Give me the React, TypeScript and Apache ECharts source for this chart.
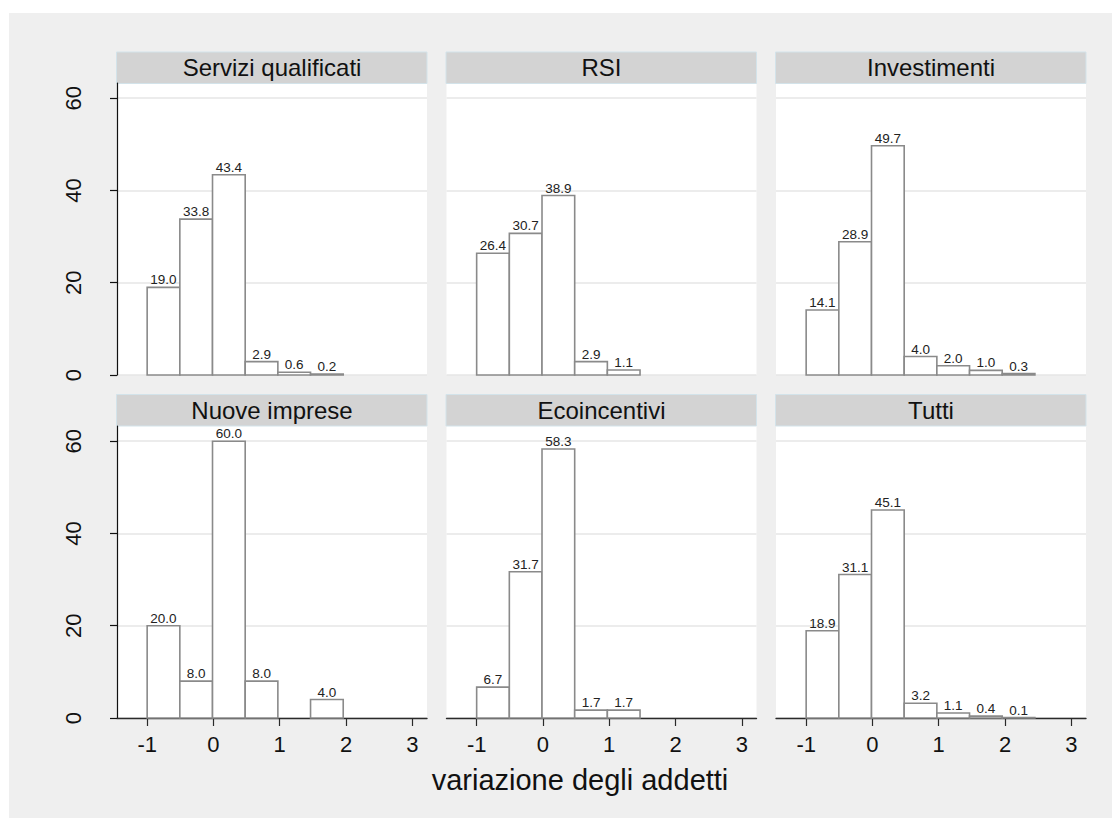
import React, { useEffect, useRef } from "react";
import * as echarts from "echarts";

// ---- data ----
const panelTitles = ["Servizi qualificati", "RSI", "Investimenti", "Nuove imprese", "Ecoincentivi", "Tutti"];
const serviziQualificati = [19.0, 33.8, 43.4, 2.9, 0.6, 0.2];
const rsi = [26.4, 30.7, 38.9, 2.9, 1.1];
const investimenti = [14.1, 28.9, 49.7, 4.0, 2.0, 1.0, 0.3];
const nuoveImprese: (number | null)[] = [20.0, 8.0, 60.0, 8.0, null, 4.0];
const ecoincentivi = [6.7, 31.7, 58.3, 1.7, 1.7];
const tutti = [18.9, 31.1, 45.1, 3.2, 1.1, 0.4, 0.1];
const panelValues: (number | null)[][] = [serviziQualificati, rsi, investimenti, nuoveImprese, ecoincentivi, tutti];

const binStart = -1;
const binWidth = 0.493;
const xTicks = [-1, 0, 1, 2, 3];
const yTicks = [0, 20, 40, 60];
const xTitle = "variazione degli addetti";

// ---- layout / style ----
const FONT = '"Liberation Sans", Arial, Helvetica, sans-serif';
const colLeft = [117, 446.5, 776];
const rowTop = [83, 426];
const headerTop = [52, 394.5];
const panelW = 310;
const panelH = 292;
const headerH = 31.5;
const xMin = -1.455;
const xMax = 3.222;
const yMax = 63.3;

export default function App() {
  const ref = useRef<HTMLDivElement>(null);
  useEffect(() => {
    document.body.style.margin = "0";
    if (!ref.current) return;
    const chart = echarts.init(ref.current, null, { renderer: "svg" });

    const grids: any[] = [];
    const xAxes: any[] = [];
    const yAxes: any[] = [];
    const series: any[] = [];
    const graphics: any[] = [
      { type: "rect", z: -10, shape: { x: 9, y: 13, width: 1103, height: 805 }, style: { fill: "#efefef" } },
    ];

    for (let i = 0; i < 6; i++) {
      const r = Math.floor(i / 3);
      const c = i % 3;
      grids.push({
        left: colLeft[c],
        top: rowTop[r],
        width: panelW,
        height: panelH,
        show: true,
        backgroundColor: "#ffffff",
        borderWidth: 0,
        containLabel: false,
        outerBoundsMode: "none",
      });
      const bottomRow = r === 1;
      xAxes.push({
        type: "value",
        gridIndex: i,
        min: xMin,
        max: xMax,
        show: bottomRow,
        axisLine: { show: true, onZero: false, lineStyle: { color: "#2a2a2a", width: 1.4 } },
        axisTick: { show: true, length: 8, customValues: xTicks, lineStyle: { color: "#2a2a2a", width: 1.2 } },
        axisLabel: {
          show: true,
          customValues: xTicks,
          margin: 15,
          fontSize: 22,
          fontFamily: FONT,
          color: "#111",
          formatter: (v: number) => String(v),
        },
        splitLine: { show: false },
      });
      const leftCol = c === 0;
      yAxes.push({
        type: "value",
        gridIndex: i,
        min: 0,
        max: yMax,
        position: "left",
        axisLine: { show: leftCol, onZero: false, lineStyle: { color: "#111", width: 1.2 } },
        axisTick: { show: leftCol, length: 7, customValues: yTicks, lineStyle: { color: "#111", width: 1.2 } },
        axisLabel: {
          show: leftCol,
          customValues: yTicks,
          rotate: 90,
          margin: 33,
          fontSize: 22,
          fontFamily: FONT,
          color: "#111",
          formatter: (v: number) => String(v),
        },
        splitLine: { show: true, lineStyle: { color: "#e6e6e6", width: 1.6 } },
      });

      const data: number[][] = [];
      panelValues[i].forEach((v, k) => {
        if (v === null || v === undefined) return;
        data.push([binStart + k * binWidth, binStart + (k + 1) * binWidth, v]);
      });
      series.push({
        type: "custom",
        xAxisIndex: i,
        yAxisIndex: i,
        data,
        clip: false,
        renderItem: (params: any, api: any) => {
          const x0 = api.value(0);
          const x1 = api.value(1);
          const v = api.value(2);
          const pTop = api.coord([x0, v]);
          const pBot = api.coord([x1, 0]);
          return {
            type: "group",
            children: [
              {
                type: "rect",
                shape: { x: pTop[0], y: pTop[1], width: pBot[0] - pTop[0], height: pBot[1] - pTop[1] },
                style: { fill: "#ffffff", stroke: "#8a8a8a", lineWidth: 1.6 },
              },
              {
                type: "text",
                x: (pTop[0] + pBot[0]) / 2,
                y: pTop[1] - 0.5,
                style: {
                  text: Number(v).toFixed(1),
                  align: "center",
                  verticalAlign: "bottom",
                  textAlign: "center",
                  textVerticalAlign: "bottom",
                  fontSize: 13.5,
                  fontFamily: FONT,
                  fill: "#222",
                },
              },
            ],
          };
        },
      });

      graphics.push({
        type: "group",
        children: [
          {
            type: "rect",
            shape: { x: colLeft[c] - 0.5, y: headerTop[r], width: panelW + 0.5, height: headerH },
            style: { fill: "#d3d3d3", stroke: "#d3e3ea", lineWidth: 1 },
          },
          {
            type: "text",
            x: colLeft[c] + panelW / 2,
            y: headerTop[r] + headerH / 2,
            style: {
              text: panelTitles[i],
              align: "center",
              verticalAlign: "middle",
              textAlign: "center",
              textVerticalAlign: "middle",
              fontSize: 24,
              fontFamily: FONT,
              fill: "#111",
            },
          },
        ],
      });
    }

    graphics.push({
      type: "text",
      x: 580,
      y: 780,
      style: {
        text: xTitle,
        align: "center",
        verticalAlign: "middle",
        textAlign: "center",
        textVerticalAlign: "middle",
        fontSize: 29,
        fontFamily: FONT,
        fill: "#111",
      },
    });

    chart.setOption({
      animation: false,
      backgroundColor: "#ffffff",
      graphic: graphics,
      grid: grids,
      xAxis: xAxes,
      yAxis: yAxes,
      series,
    });
    return () => chart.dispose();
  }, []);
  return <div ref={ref} style={{ width: 1112, height: 818 }} />;
}
